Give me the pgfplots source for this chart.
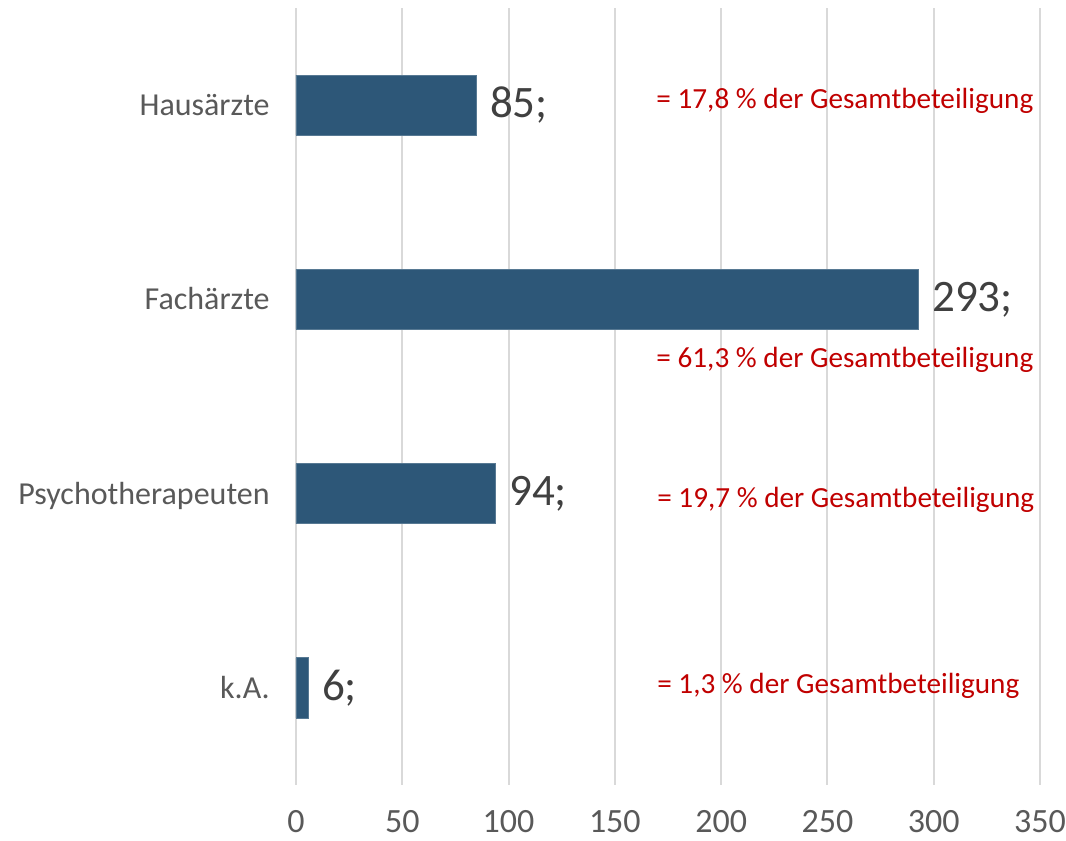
\documentclass[border=0pt]{standalone}
\usepackage{fontspec}
\setmainfont{Carlito}
\usepackage{pgfplots}
\pgfplotsset{compat=1.18}
\definecolor{barblue}{HTML}{2D5778}
\definecolor{gridgray}{HTML}{D9D9D9}
\definecolor{txtgray}{HTML}{595959}
\definecolor{valgray}{HTML}{404040}
\definecolor{redtxt}{HTML}{C00000}
\begin{document}
\begin{tikzpicture}
\begin{axis}[
  at={(0,0)}, anchor=south west,
  scale only axis, width=372pt, height=388.5pt,
  xbar, bar width=0.31,
  xmin=0, xmax=350, ymin=-0.5, ymax=3.5, y dir=reverse,
  ytick={0,1,2,3},
  yticklabels={Hausärzte,Fachärzte,Psychotherapeuten,k.A.},
  xtick={0,50,...,350},
  xmajorgrids, ymajorgrids=false,
  grid style={draw=gridgray, line width=1pt},
  axis line style={draw=none}, major tick length=0pt,
  /pgf/number format/assume math mode=true,
  xticklabel style={anchor=base, inner sep=0pt, yshift=-23.5pt, text=txtgray, font=\fontsize{17}{20}\selectfont},
  yticklabel style={anchor=base east, inner sep=0pt, xshift=-13pt, yshift=-5.25pt, text=txtgray, font=\fontsize{16}{19}\selectfont},
  nodes near coords={\pgfmathprintnumber{\pgfplotspointmeta};},
  nodes near coords style={anchor=west, inner sep=0pt, xshift=6.5pt, text=valgray, font=\fontsize{22.5}{26}\selectfont},
  clip=false,
]
\addplot[fill=barblue, draw=barblue!80!white, line width=0.4pt] coordinates {(85,0) (293,1) (94,2) (6,3)};
\node[anchor=base west, inner sep=0pt, text=redtxt, font=\fontsize{14.6}{17}\selectfont] at (axis cs:169.4,0.015) {= 17,8 \% der Gesamtbeteiligung};
\node[anchor=base west, inner sep=0pt, text=redtxt, font=\fontsize{14.6}{17}\selectfont] at (axis cs:169.4,1.351) {= 61,3 \% der Gesamtbeteiligung};
\node[anchor=base west, inner sep=0pt, text=redtxt, font=\fontsize{14.6}{17}\selectfont] at (axis cs:169.8,2.07) {= 19,7 \% der Gesamtbeteiligung};
\node[anchor=base west, inner sep=0pt, text=redtxt, font=\fontsize{14.6}{17}\selectfont] at (axis cs:169.8,3.03) {= 1,3 \% der Gesamtbeteiligung};
\end{axis}
\pgfresetboundingbox
\useasboundingbox (-148pt,-28pt) rectangle (385pt,392.5pt);
\end{tikzpicture}
\end{document}
